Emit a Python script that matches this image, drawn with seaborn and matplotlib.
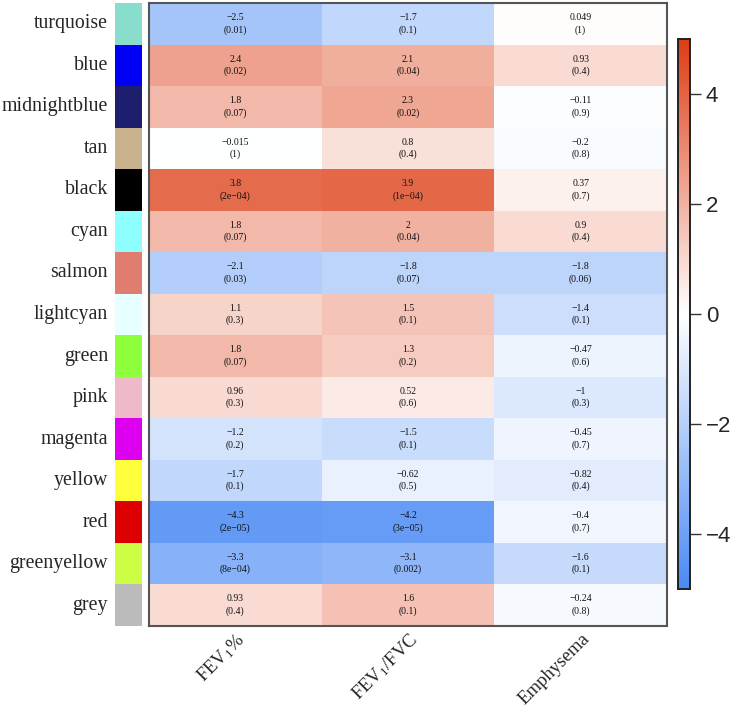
import numpy as np
import pandas as pd
import matplotlib
matplotlib.use("Agg")
import matplotlib.pyplot as plt
import seaborn as sns
from matplotlib.colors import LinearSegmentedColormap, ListedColormap

# ==========================================
# DATA
# ==========================================

modules = ["turquoise", "blue", "midnightblue", "tan", "black", "cyan", "salmon",
           "lightcyan", "green", "pink", "magenta", "yellow", "red", "greenyellow", "grey"]

module_colors = ["#88DDCC", "#0000F5", "#1E1E6E", "#C8B28E", "#000000", "#8EFFFF",
                 "#E07C70", "#E8FFFF", "#8EFF3C", "#EEBAC8", "#DD00F0", "#FFFF3C",
                 "#DD0000", "#CCFF44", "#BBBBBB"]

traits = [r"FEV$_1$%", r"FEV$_1$/FVC", "Emphysema"]

fev1_pct = [-2.5, 2.4, 1.8, -0.015, 3.8, 1.8, -2.1, 1.1, 1.8, 0.96, -1.2, -1.7, -4.3, -3.3, 0.93]
fev1_fvc = [-1.7, 2.1, 2.3, 0.8, 3.9, 2, -1.8, 1.5, 1.3, 0.52, -1.5, -0.62, -4.2, -3.1, 1.6]
emphysema = [0.049, 0.93, -0.11, -0.2, 0.37, 0.9, -1.8, -1.4, -0.47, -1, -0.45, -0.82, -0.4, -1.6, -0.24]

p_fev1_pct = ["0.01", "0.02", "0.07", "1", "2e−04", "0.07", "0.03", "0.3", "0.07", "0.3",
              "0.2", "0.1", "2e−05", "8e−04", "0.4"]
p_fev1_fvc = ["0.1", "0.04", "0.02", "0.4", "1e−04", "0.04", "0.07", "0.1", "0.2", "0.6",
              "0.1", "0.5", "3e−05", "0.002", "0.1"]
p_emphysema = ["1", "0.4", "0.9", "0.8", "0.7", "0.4", "0.06", "0.1", "0.6", "0.3",
               "0.7", "0.4", "0.7", "0.1", "0.8"]

# ==========================================
# BUILD TABLES
# ==========================================

vals = pd.DataFrame({traits[0]: fev1_pct, traits[1]: fev1_fvc, traits[2]: emphysema},
                    index=modules)
pvals = [p_fev1_pct, p_fev1_fvc, p_emphysema]
value_cols = [fev1_pct, fev1_fvc, emphysema]


def fmt(v):
    return ("%g" % v).replace("-", "−")


annot = np.empty(vals.shape, dtype=object)
for j in range(3):
    for i in range(len(modules)):
        annot[i, j] = "%s\n(%s)" % (fmt(value_cols[j][i]), pvals[j][i])

cmap = LinearSegmentedColormap.from_list("bwr_wgcna", ["#4A8AF4", "#FFFFFF", "#DC3D14"])

# ==========================================
# PLOT
# ==========================================

sns.set_style("white")
plt.rcParams["font.family"] = ["Liberation Serif", "DejaVu Serif"]
plt.rcParams["mathtext.fontset"] = "custom"
plt.rcParams["mathtext.rm"] = "Liberation Serif"
plt.rcParams["mathtext.it"] = "Liberation Serif:italic"

fig = plt.figure(figsize=(7.31, 7.09), dpi=100)

ax = fig.add_axes([0.2038, 0.1171, 0.7086, 0.8787])
ax_sw = fig.add_axes([0.1573, 0.1171, 0.0369, 0.8787])
cax = fig.add_axes([0.9275, 0.1693, 0.0164, 0.7757])

sns.heatmap(vals, ax=ax, cmap=cmap, vmin=-5, vmax=5, annot=annot, fmt="",
            annot_kws={"fontsize": 7, "color": "#111111", "linespacing": 1.4},
            cbar_ax=cax, yticklabels=False)

for s in ax.spines.values():
    s.set_visible(True)
    s.set_color("#555555")
    s.set_linewidth(1.5)

ax.set_xticklabels(traits, rotation=45, ha="right", va="top",
                   rotation_mode="anchor", fontsize=13.5)
ax.tick_params(axis="x", length=0, pad=3)
ax.set_ylabel("")
ax.set_xlabel("")

# module colour swatches
sw = pd.DataFrame({"c": np.arange(len(modules))}, index=modules)
sns.heatmap(sw, ax=ax_sw, cmap=ListedColormap(module_colors), cbar=False,
            xticklabels=False, yticklabels=True, vmin=-0.5, vmax=len(modules) - 0.5)
ax_sw.set_yticklabels(modules, rotation=0, fontsize=14.3)
ax_sw.tick_params(axis="y", length=0, pad=5)
ax_sw.set_ylabel("")

# colorbar
cax.tick_params(labelsize=16, length=8, width=1, direction="out", color="#333333")
cax.set_yticks([-4, -2, 0, 2, 4])
cax.set_yticklabels(["−4", "−2", "0", "2", "4"], family=["Liberation Sans", "DejaVu Sans"])
for s in cax.spines.values():
    s.set_visible(True)
    s.set_color("#222222")
    s.set_linewidth(1.2)

fig.savefig("out.png", dpi=100)
